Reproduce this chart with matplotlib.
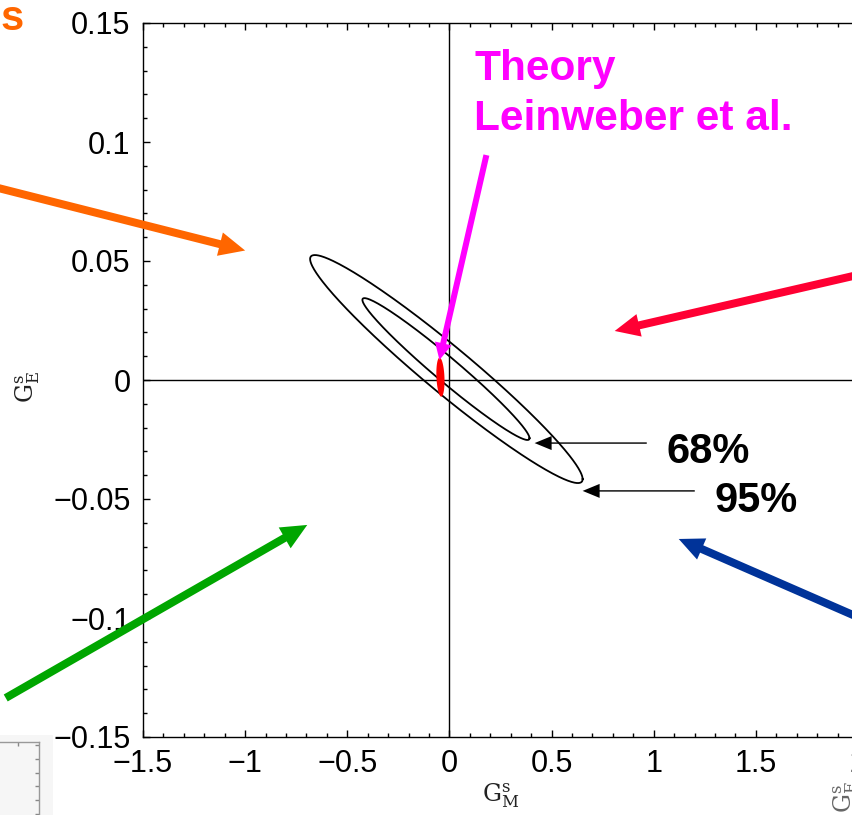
import numpy as np
import matplotlib.pyplot as plt
import matplotlib as mpl
from matplotlib.ticker import MultipleLocator

mpl.rcParams['font.family'] = ['Liberation Sans', 'DejaVu Sans']
mpl.rcParams['mathtext.fontset'] = 'dejavuserif'
mpl.rcParams['axes.linewidth'] = 1.0

# confidence contours (centre, marginal half widths, correlation)
cl_cx = [-0.017, -0.015]
cl_cy = [0.0046, 0.0046]
cl_sx = [0.409, 0.667]
cl_sy = [0.0298, 0.0479]
cl_rho = [-0.975, -0.965]

# theory blob (Leinweber et al.)
th_cx, th_cy = -0.044, 0.0012
th_sx, th_sy = 0.02, 0.0082
th_rho = -0.2

xticks = [-1.5, -1, -0.5, 0, 0.5, 1, 1.5, 2]
xticklabels = ['\u22121.5', '\u22121', '\u22120.5', '0', '0.5', '1', '1.5', '2']
yticks = [-0.15, -0.1, -0.05, 0, 0.05, 0.1, 0.15]
yticklabels = ['\u22120.15', '\u22120.1', '\u22120.05', '0', '0.05', '0.1', '0.15']


def contour(cx, cy, sx, sy, rho, n=400):
    t = np.linspace(0, 2*np.pi, n)
    x = cx + sx*np.cos(t)
    y = cy + sy*(rho*np.cos(t) + np.sqrt(1-rho**2)*np.sin(t))
    return x, y


fig = plt.figure(figsize=(8.53, 8.15), dpi=100)

# bit of the neighbouring panel, lower left
bg = fig.add_axes([0, 0, 53/853, 80/815])
bg.set_facecolor('#f6f6f6')
bg.set_xticks([]); bg.set_yticks([])
for s in bg.spines.values():
    s.set_visible(False)
nb = fig.add_axes([-0.2, -0.2, 0.2+39/853, 0.2+73/815])
nb.patch.set_alpha(0)
nb.set_xlim(0, 1); nb.set_ylim(0, 1)
nb.xaxis.set_major_locator(MultipleLocator(21/(0.2*853+39)))
nb.yaxis.set_major_locator(MultipleLocator(13.7/(0.2*815+73)))
nb.tick_params(direction='in', top=True, right=True, length=3, width=1,
               color='#888888', labelleft=False, labelbottom=False)
for s in nb.spines.values():
    s.set_color('#999999')

ax = fig.add_axes([143/853, 78/815, 715/853, 714/815])

for cx, cy, sx, sy, rho in zip(cl_cx, cl_cy, cl_sx, cl_sy, cl_rho):
    x, y = contour(cx, cy, sx, sy, rho)
    ax.plot(x, y, color='k', lw=1.3)

x, y = contour(th_cx, th_cy, th_sx, th_sy, th_rho)
ax.fill(x, y, color='#ff0000', lw=0, zorder=3)

ax.axhline(0, color='k', lw=1.0)
ax.axvline(0, color='k', lw=1.0)

ax.set_xlim(-1.5, 2)
ax.set_ylim(-0.15, 0.15)
ax.set_xticks(xticks)
ax.set_xticklabels(xticklabels)
ax.set_yticks(yticks)
ax.set_yticklabels(yticklabels)
ax.xaxis.set_minor_locator(MultipleLocator(0.1))
ax.yaxis.set_minor_locator(MultipleLocator(0.01))
ax.tick_params(which='both', direction='in', top=True, right=False, width=1)
ax.tick_params(which='major', length=5, labelsize=22, pad=9)
ax.tick_params(which='minor', length=3)

ax.set_xlabel(r'$\mathrm{G}_{\mathrm{M}}^{\mathrm{s}}$', fontsize=17, color='#222222', labelpad=1)
ax.set_ylabel(r'$\mathrm{G}_{\mathrm{E}}^{\mathrm{s}}$', fontsize=17, color='#222222')
ax.yaxis.set_label_coords(-0.141, 0.49)

# fat coloured arrows: (tail, tip, colour, shaft, head width, head length) in px
fat = [
    ((-2.21, 0.0807), (-1.0, 0.0544), '#ff6600', 8, 24, 26),
    ((-2.172, -0.1336), (-0.696, -0.0609), '#00a600', 8, 24, 26),
    ((2.108, 0.0463), (0.809, 0.0206), '#ff0033', 8, 23, 25),
    ((2.108, -0.1037), (1.1225, -0.0668), '#003399', 8, 23, 25),
    ((0.181, 0.0945), (-0.049, 0.0084), '#ff00ff', 6, 17, 17),
    ((0.966, -0.0265), (0.417, -0.0265), 'k', 1.4, 14, 17),
    ((1.201, -0.0466), (0.652, -0.0466), 'k', 1.4, 14, 17),
]
u = 100/72*10  # px per mutation unit
for tail, tip, col, tw, hw, hl in fat:
    ax.annotate('', xy=tip, xytext=tail, annotation_clip=False,
                arrowprops=dict(arrowstyle='simple,tail_width=%.3f,head_width=%.3f,head_length=%.3f'
                                % (tw/u, hw/u, hl/u),
                                mutation_scale=10, color=col, lw=0,
                                shrinkA=0, shrinkB=0), zorder=4)

ax.text(0.1225, 0.1261, 'Theory', color='#ff00ff', fontsize=30.5,
        fontweight='bold', va='baseline', ha='left')
ax.text(0.1225, 0.105, 'Leinweber et al.', color='#ff00ff', fontsize=30.5,
        fontweight='bold', va='baseline', ha='left')
ax.text(1.064, -0.0349, '68%', fontsize=30, fontweight='bold', va='baseline', ha='left')
ax.text(1.299, -0.0555, '95%', fontsize=30, fontweight='bold', va='baseline', ha='left')

fig.text(0.0, 1 - 30/815, 's', color='#ff6600', fontsize=30, fontweight='bold',
         va='baseline', ha='left')
fig.text(846/853, 1 - 797/815, r'$\mathrm{G}_{\mathrm{E}}^{\mathrm{s}}$', rotation=90,
         fontsize=17, color='#666666', ha='center', va='center')

fig.savefig('out.png', dpi=100)
